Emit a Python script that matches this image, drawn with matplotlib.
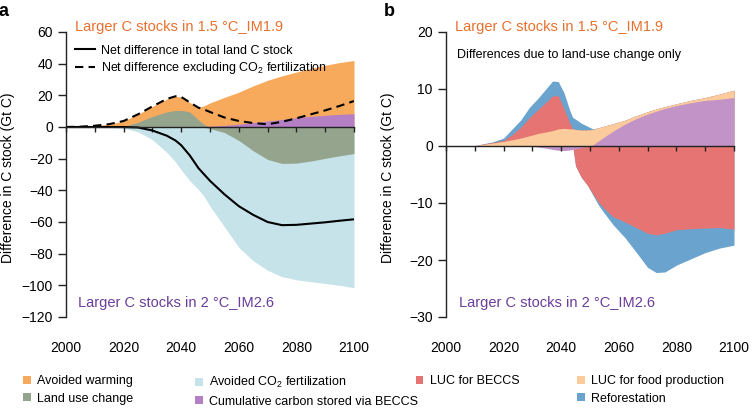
import numpy as np
import matplotlib
matplotlib.use("Agg")
import matplotlib.pyplot as plt
from matplotlib.patches import Patch
from matplotlib.lines import Line2D

plt.rcParams['font.family'] = ['Liberation Sans', 'DejaVu Sans']
plt.rcParams['mathtext.fontset'] = 'custom'
plt.rcParams['mathtext.rm'] = 'Liberation Sans'
plt.rcParams['mathtext.it'] = 'Liberation Sans:italic'

# ---- panel a data (Gt C) ----
years_a = [2000, 2005, 2010, 2015, 2020, 2025, 2030, 2035, 2038, 2040, 2043, 2046, 2048,
           2050, 2055, 2060, 2065, 2070, 2075, 2080, 2085, 2090, 2095, 2100]
warming_top = [0, 0.2, 0.8, 1.8, 3.8, 8, 13, 17.7, 19.4, 19, 15.5, 12.2, 13.5,
               15.2, 18.7, 22, 26, 29.5, 32.3, 34.7, 37, 39, 40.7, 42]
luc_pos = [0, 0, 0, 0, 0.3, 3, 6.7, 9.5, 10.5, 10.5, 9.5, 4.5, 1.5,
           0, 0, 0, 0, 0, 0, 0, 0, 0, 0, 0]
luc_neg = [0, 0, 0, 0, 0, 0, 0, 0, 0, 0, 0, 0, -0.3,
           -1.0, -3.5, -8.5, -15, -20.5, -23, -22.8, -21.5, -19.8, -18.2, -16.8]
beccs_stored = [0, 0, 0, 0, 0, 0, 0, 0, 0, 0, 0, 0, 0.2,
                0.5, 1.0, 1.8, 2.8, 3.8, 4.8, 5.9, 6.7, 7.4, 8.0, 8.4]
co2fert_bot = [0, 0, -0.1, -0.3, -0.8, -3, -8, -16, -22, -27, -34, -39.5, -44,
               -50, -63, -76, -84.5, -90.5, -94.5, -96.5, -97.7, -98.8, -100, -101.5]
net_total = [0, 0, 0, 0, 0, -0.3, -2.2, -5.5, -8.5, -11.5, -18, -26, -30,
             -34, -42.5, -50, -55.5, -60, -62, -61.8, -61, -60.2, -59.2, -58.3]
net_excl_co2 = [0, 0.2, 0.8, 1.8, 3.8, 8, 13, 17.7, 19.4, 19, 15.5, 12.2, 11,
                9.5, 6, 3.8, 2.5, 1.7, 3.3, 5.5, 8, 10.5, 13.3, 16.4]

# ---- panel b data (Gt C), stacked boundaries ----
years_b = [2000, 2005, 2010, 2013, 2016, 2020, 2023, 2026, 2029, 2032, 2035, 2037, 2039,
           2041, 2043, 2044, 2045, 2047, 2049, 2051, 2053, 2055, 2058, 2062, 2066, 2070,
           2073, 2076, 2080, 2085, 2090, 2095, 2100]
purple_pos = [0, 0, 0, 0, 0, 0, 0, 0, 0, 0, 0, 0, 0,
              0, 0, 0, 0, 0, 0, 0.2, 0.9, 1.6, 2.6, 3.8, 4.8, 5.6,
              6.1, 6.6, 7.1, 7.6, 8.0, 8.2, 8.5]
food_top = [0, 0, 0.05, 0.3, 0.5, 0.8, 1.1, 1.4, 1.8, 2.2, 2.5, 2.7, 3.0,
            3.1, 3.0, 3.0, 2.9, 2.8, 2.8, 2.9, 3.2, 3.5, 3.9, 4.5, 5.3, 6.0,
            6.5, 6.9, 7.4, 8.0, 8.5, 9.1, 9.8]
beccs_top = [0, 0, 0.05, 0.35, 0.6, 1.0, 2.0, 3.3, 5.0, 6.4, 7.8, 8.8, 8.8,
             6.5, 4.0, 3.0, 2.9, 2.8, 2.8, 2.9, 3.2, 3.5, 3.9, 4.5, 5.3, 6.0,
             6.5, 6.9, 7.4, 8.0, 8.5, 9.1, 9.8]
refor_top = [0, 0, 0.05, 0.4, 0.7, 1.4, 3.0, 4.6, 6.8, 8.4, 10.2, 11.4, 11.3,
             9.3, 6.2, 5.0, 4.7, 4.0, 3.5, 3.0, 3.2, 3.5, 3.9, 4.5, 5.3, 6.0,
             6.5, 6.9, 7.4, 8.0, 8.5, 9.1, 9.8]
purple_neg = [0, 0, 0, 0, 0, 0, 0, 0, 0, -0.2, -0.4, -0.6, -0.75,
              -0.8, -0.7, -0.6, -0.5, -0.3, -0.1, 0, 0, 0, 0, 0, 0, 0,
              0, 0, 0, 0, 0, 0, 0]
beccs_bot = [0, 0, 0, 0, 0, 0, 0, 0, 0, 0, 0, 0, 0,
             0, 0, 0, -3.5, -5.5, -6.8, -8.4, -9.9, -11.0, -12.4, -13.3, -14.3, -15.3,
             -15.6, -15.3, -14.7, -14.5, -14.4, -14.3, -14.6]
refor_bot = [0, 0, 0, 0, 0, 0, 0, 0, 0, 0, 0, 0, 0,
             0, 0, 0, -3.5, -5.5, -6.8, -8.6, -10.4, -11.8, -13.8, -16.0, -18.6, -21.3,
             -22.2, -22.1, -20.9, -19.8, -18.7, -17.9, -17.4]

c_warm = '#F8AA5C'
c_luc = '#95A58D'
c_co2 = '#C6E3E9'
c_stored = '#B47FC4'
c_stored_b = '#C193C7'
c_beccs = '#E57472'
c_food = '#FBCB9C'
c_refor = '#6AA3CD'
c_orange_txt = '#E8702E'
c_purple_txt = '#6A3D9A'

fig = plt.figure(figsize=(7.53, 4.09), dpi=100)
ax_a = fig.add_axes([66 / 753, 1 - 317 / 409, 288 / 753, 285 / 409])
ax_b = fig.add_axes([446 / 753, 1 - 317 / 409, 288 / 753, 285 / 409])


def style_axis(ax, ylo, yhi, ystep):
    ax.set_xlim(2000, 2100)
    ax.set_ylim(ylo, yhi)
    ax.spines['top'].set_visible(False)
    ax.spines['right'].set_visible(False)
    ax.spines['bottom'].set_position(('data', 0))
    for s in ('left', 'bottom'):
        ax.spines[s].set_linewidth(1.0)
        ax.spines[s].set_color('#222222')
    ax.set_xticks(range(2000, 2101, 10))
    ax.tick_params(axis='x', labelbottom=False, direction='out', length=3.5, width=1.0, color='#222222')
    ax.set_yticks(np.arange(ylo, yhi + 1, ystep))
    ax.tick_params(axis='y', direction='out', length=6, width=1.0, labelsize=10, color='#222222')
    sec = ax.secondary_xaxis(0)
    sec.set_xticks(range(2000, 2101, 20))
    sec.spines['bottom'].set_visible(False)
    sec.tick_params(axis='x', length=0, pad=17, labelsize=10)
    ax.set_ylabel('Difference in C stock (Gt C)', fontsize=10)
    ax.yaxis.set_label_coords(-0.176, 0.49)


# panel a
ax = ax_a
ax.fill_between(years_a, 0, co2fert_bot, color=c_co2, lw=0)
ax.fill_between(years_a, 0, warming_top, color=c_warm, lw=0)
ax.fill_between(years_a, 0, luc_pos, color=c_luc, lw=0)
ax.fill_between(years_a, 0, luc_neg, color=c_luc, lw=0)
ax.fill_between(years_a, 0, beccs_stored, color=c_stored, lw=0)
ax.plot(years_a, net_total, color='black', lw=1.5)
ax.plot(years_a, net_excl_co2, color='black', lw=1.5, ls=(0, (4, 2.5)))
style_axis(ax, -120, 60, 20)
ax.text(0.031, 1.0175, 'Larger C stocks in 1.5 °C_IM1.9', color=c_orange_txt, fontsize=10.5,
        transform=ax.transAxes, va='center', ha='left')
ax.text(0.042, 0.049, 'Larger C stocks in 2 °C_IM2.6', color=c_purple_txt, fontsize=10.5,
        transform=ax.transAxes, va='center', ha='left')
line_handles = [Line2D([], [], color='black', lw=1.5),
                Line2D([], [], color='black', lw=1.5, ls=(0, (4, 2.5)))]
ax.legend(line_handles, ['Net difference in total land C stock',
                         'Net difference excluding CO$_2$ fertilization'],
          loc='upper left', bbox_to_anchor=(0.031, 0.955), frameon=False, fontsize=9,
          handlelength=1.6, handletextpad=0.5, labelspacing=0.25, borderpad=0, borderaxespad=0)

# panel b
ax = ax_b
ax.fill_between(years_b, 0, refor_top, color=c_refor, lw=0)
ax.fill_between(years_b, 0, beccs_top, color=c_beccs, lw=0)
ax.fill_between(years_b, 0, food_top, color=c_food, lw=0)
ax.fill_between(years_b, 0, purple_pos, color=c_stored_b, lw=0)
ax.fill_between(years_b, 0, refor_bot, color=c_refor, lw=0)
ax.fill_between(years_b, 0, beccs_bot, color=c_beccs, lw=0)
ax.fill_between(years_b, 0, purple_neg, color=c_stored_b, lw=0)
style_axis(ax, -30, 20, 10)
ax.text(0.031, 1.0175, 'Larger C stocks in 1.5 °C_IM1.9', color=c_orange_txt, fontsize=10.5,
        transform=ax.transAxes, va='center', ha='left')
ax.text(0.038, 0.919, 'Differences due to land-use change only', color='black', fontsize=9,
        transform=ax.transAxes, va='center', ha='left')
ax.text(0.045, 0.049, 'Larger C stocks in 2 °C_IM2.6', color=c_purple_txt, fontsize=10.5,
        transform=ax.transAxes, va='center', ha='left')

fig.text(4 / 753, 1 - 11 / 409, 'a', fontsize=13, fontweight='bold', va='center', ha='center')
fig.text(389 / 753, 1 - 11 / 409, 'b', fontsize=13, fontweight='bold', va='center', ha='center')

# bottom legend, four columns
columns = [
    (23, [('Avoided warming', c_warm), ('Land use change', c_luc)]),
    (195, [('Avoided CO$_2$ fertilization', c_co2), ('Cumulative carbon stored via BECCS', c_stored)]),
    (416, [('LUC for BECCS', c_beccs)]),
    (577, [('LUC for food production', c_food), ('Reforestation', c_refor)]),
]
for xpx, items in columns:
    handles = [Patch(facecolor=c, edgecolor='none') for _, c in items]
    labels = [t for t, _ in items]
    fig.legend(handles, labels, loc='upper left', bbox_to_anchor=(xpx / 753, 1 - 375 / 409),
               frameon=False, fontsize=9, handlelength=0.6, handleheight=0.6,
               handletextpad=0.55, labelspacing=0.45, borderpad=0, borderaxespad=0)

fig.savefig('out.png', dpi=100)
